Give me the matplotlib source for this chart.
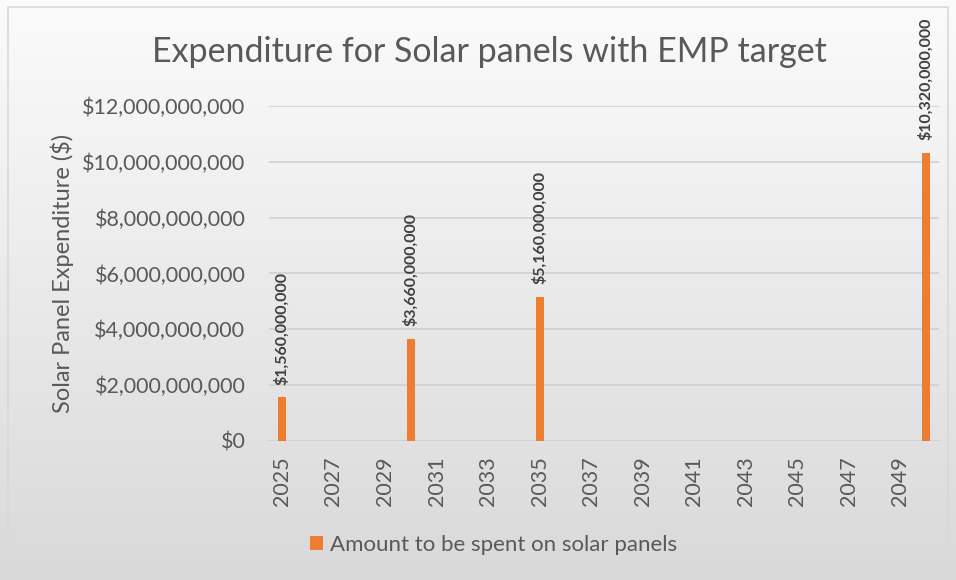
import matplotlib.pyplot as plt
import matplotlib.ticker as mticker
from matplotlib.patches import Rectangle
import numpy as np

years = list(range(2025, 2051))
bar_years = [2025, 2030, 2035, 2050]
bar_values = [1560000000, 3660000000, 5160000000, 10320000000]
tick_years = list(range(2025, 2050, 2))

plt.rcParams['font.family'] = ['Lato', 'DejaVu Sans']
txt = '#595959'

fig = plt.figure(figsize=(9.56, 5.8), dpi=100)

# gradient background like the Excel chart area
bg = fig.add_axes([0, 0, 1, 1], zorder=-10)
grad = np.linspace(0, 1, 256).reshape(-1, 1)
bg.imshow(grad, aspect='auto', cmap=plt.matplotlib.colors.LinearSegmentedColormap.from_list(
    'g', ['#fbfbfb', '#d9d9d9']), extent=[0, 1, 0, 1], origin='upper')
bg.set_xlim(0, 1)
bg.set_ylim(0, 1)
bg.axis('off')
bg.add_patch(Rectangle((8 / 956, 5 / 580), 940 / 956, 568 / 580, fill=False,
                       edgecolor='#d9d9d9', lw=1.2))

ax = fig.add_axes([0.2814, 0.2397, 0.7008, 0.5775])
ax.patch.set_alpha(0)

x = [years.index(y) for y in bar_years]
bars = ax.bar(x, bar_values, width=0.31, color='#ED7D31', zorder=3,
              label='Amount to be spent on solar panels')

for xi, v in zip(x, bar_values):
    ax.annotate('${:,.0f}'.format(v), (xi, v), xytext=(0, 9), textcoords='offset points',
                rotation=90, ha='center', va='bottom', fontsize=11.5, fontweight='bold',
                color='#404040')

ax.set_xlim(-0.5, len(years) - 0.5)
ax.set_ylim(0, 12000000000)
ax.set_yticks(np.arange(0, 12000000001, 2000000000))
ax.yaxis.set_major_formatter(mticker.FuncFormatter(lambda v, p: '${:,.0f}'.format(v)))
ax.set_xticks([years.index(y) for y in tick_years])
ax.set_xticklabels([str(y) for y in tick_years], rotation=90)
ax.tick_params(axis='both', length=0, labelsize=15.5, colors=txt)
ax.tick_params(axis='x', pad=11)
ax.tick_params(axis='y', pad=17)
ax.grid(axis='y', color='#d0d0d0', lw=1.2, zorder=0)
for s in ax.spines.values():
    s.set_visible(False)

ax.set_ylabel('Solar Panel Expenditure ($)', fontsize=17, color=txt, labelpad=6)
fig.text(0.5115, 0.91, 'Expenditure for Solar panels with EMP target', ha='center', va='center',
         fontsize=24.5, color=txt)

fig.legend(handles=[bars], loc='center', bbox_to_anchor=(0.516, 0.06), frameon=False,
           fontsize=16, labelcolor=txt, handlelength=0.6, handleheight=0.6, handletextpad=0.3)

fig.savefig('out.png', dpi=100)
